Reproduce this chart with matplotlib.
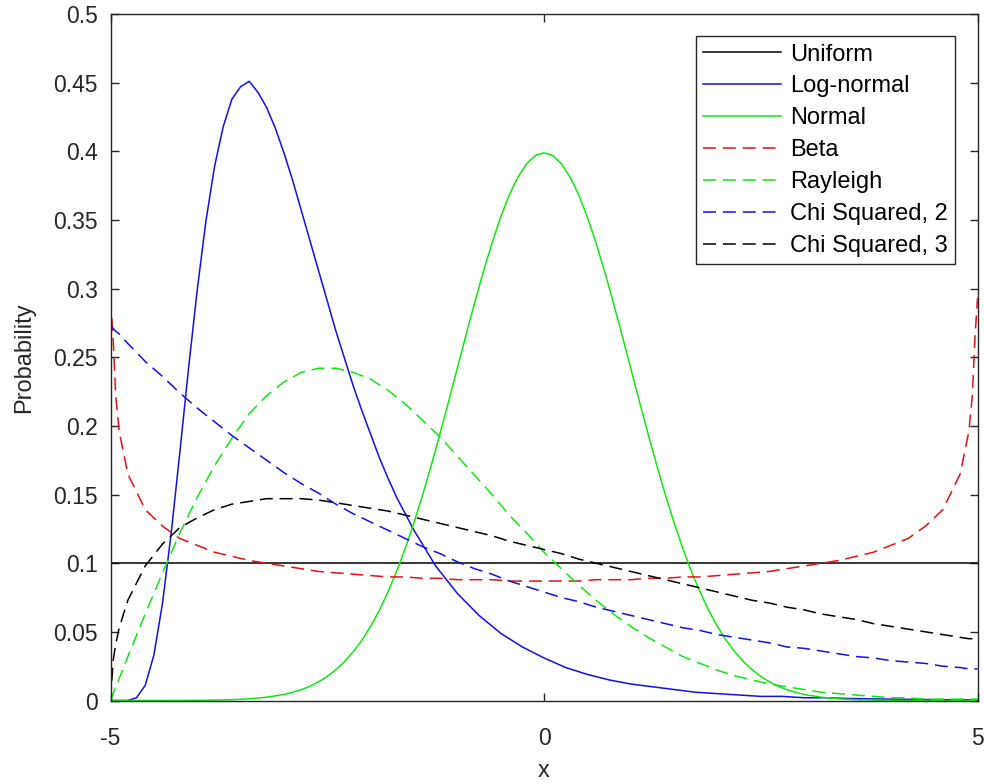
import matplotlib
matplotlib.use("Agg")
import matplotlib.pyplot as plt

plt.rcParams['font.family'] = ['Liberation Sans', 'DejaVu Sans']
plt.rcParams['axes.unicode_minus'] = False

# ---- data ----
labels = ['Uniform', 'Log-normal', 'Normal', 'Beta', 'Rayleigh', 'Chi Squared, 2', 'Chi Squared, 3']

uniform_x = [-5, 5]
uniform_y = [0.1, 0.1]

G = [-5, -4.97, -4.94, -4.9] + [round(-4.8 + 0.2 * i, 2) for i in range(49)] + [4.9, 4.94, 4.97, 5]
beta_half = [.293, .264, .222, .196, .165, .139, .127, .118, .113, .108, .105, .102, .100, .098,
             .096, .094, .093, .092, .091, .090, .090, .089, .089, .088, .088, .088, .087, .087]
beta = beta_half + [.087] + beta_half[::-1]
rayleigh = [.000, .005, .010, .016, .032, .063, .093, .122, .148, .171, .191, .209, .222, .232, .239,
            .242, .242, .239, .234, .226, .216, .204, .192, .178, .164, .150, .135, .122, .108, .096,
            .084, .073, .063, .054, .046, .039, .032, .027, .022, .018, .015, .012, .010, .008, .006,
            .005, .004, .003, .002, .002, .001, .001, .001, .001, .001, .001, .001]
chi2 = [.273, .271, .269, .267, .260, .247, .236, .224, .213, .203, .193, .184, .175, .166, .158,
        .151, .143, .136, .130, .124, .118, .112, .107, .101, .096, .092, .087, .083, .079, .075,
        .072, .068, .065, .062, .059, .056, .053, .051, .048, .046, .044, .042, .039, .038, .036,
        .034, .032, .031, .029, .028, .027, .025, .024, .023, .023, .023, .023]
chi3 = [.000, .029, .041, .053, .073, .098, .114, .126, .133, .139, .143, .145, .147, .147, .147,
        .146, .144, .142, .140, .138, .135, .132, .129, .126, .123, .120, .116, .113, .110, .107,
        .103, .100, .097, .094, .091, .088, .085, .082, .079, .076, .073, .071, .068, .066, .063,
        .061, .059, .056, .054, .052, .050, .048, .046, .045, .045, .045, .044]

norm_pos_x = [round(0.1 * i, 1) for i in range(31)] + [3.2, 3.4, 3.6, 3.8, 4.0, 4.5, 5.0]
norm_pos_y = [.3989, .3970, .3910, .3814, .3683, .3521, .3332, .3123, .2897, .2661, .2420, .2179,
              .1942, .1714, .1497, .1295, .1109, .0940, .0790, .0656, .0540, .0440, .0355, .0283,
              .0224, .0175, .0136, .0104, .0079, .0060, .0044,
              .0024, .0012, .0006, .0003, .0001, .0000, .0000]
normal_x = [-v for v in norm_pos_x[::-1]] + norm_pos_x[1:]
normal_y = norm_pos_y[::-1] + norm_pos_y[1:]

lognormal_x = [round(-5 + 0.1 * i, 1) for i in range(36)] + [round(-1.25 + 0.25 * i, 2) for i in range(26)]
lognormal_y = [.000, .000, .000, .002, .011, .033, .071, .122, .181, .242, .299, .349, .389, .418,
               .438, .447, .451, .443, .432, .417, .399, .379, .357, .335, .313, .291, .269, .249,
               .229, .211, .194, .177, .162, .148, .136, .124,
               .098, .078, .062, .049, .039, .031, .024, .019, .015, .012, .010, .008, .006, .005,
               .004, .003, .003, .002, .002, .0015, .0012, .001, .0008, .0006, .0005, .0004]

yticks = [0, 0.05, 0.1, 0.15, 0.2, 0.25, 0.3, 0.35, 0.4, 0.45, 0.5]
ytick_labels = ['0', '0.05', '0.1', '0.15', '0.2', '0.25', '0.3', '0.35', '0.4', '0.45', '0.5']
xticks = [-5, 0, 5]
xtick_labels = ['-5', '0', '5']

# ---- drawing ----
fig = plt.figure(figsize=(9.85, 7.84), dpi=100)
ax = fig.add_axes([0.1122, 0.1065, 0.8802, 0.8756])
lw = 1.1
d = (8.5, 4.5)
blue, green, red = '#1010e8', '#10e810', '#e81010'
ax.plot(uniform_x, uniform_y, color='k', lw=lw, label=labels[0])
ax.plot(lognormal_x, lognormal_y, color=blue, lw=lw, label=labels[1])
ax.plot(normal_x, normal_y, color=green, lw=lw, label=labels[2])
ax.plot(G, beta, color=red, lw=lw, dashes=d, label=labels[3])
ax.plot(G, rayleigh, color=green, lw=lw, dashes=d, label=labels[4])
ax.plot(G, chi2, color=blue, lw=lw, dashes=d, label=labels[5])
ax.plot(G, chi3, color='k', lw=lw, dashes=d, label=labels[6])

ax.set_xlim(-5, 5)
ax.set_ylim(0, 0.5)
ax.set_yticks(yticks)
ax.set_yticklabels(ytick_labels)
ax.set_xticks(xticks)
ax.set_xticklabels(xtick_labels)
for s in ax.spines.values():
    s.set_color('#262626')
    s.set_linewidth(1.0)
ax.tick_params(direction='in', length=6, width=1.0, color='#262626', labelcolor='#262626',
               labelsize=16.5, top=True, right=True)
ax.tick_params(axis='y', pad=9)
ax.tick_params(axis='x', pad=19)
ax.set_xlabel('x', fontsize=17, color='#262626', labelpad=7)
ax.set_ylabel('Probability', fontsize=17, color='#262626', labelpad=13)
leg = ax.legend(loc='upper right', fontsize=17, fancybox=False, framealpha=1, edgecolor='#262626',
                handlelength=3.3, handletextpad=0.4, labelspacing=0.42, borderpad=0.3,
                borderaxespad=0.95)
leg.get_frame().set_linewidth(1.0)
fig.savefig("out.png")
